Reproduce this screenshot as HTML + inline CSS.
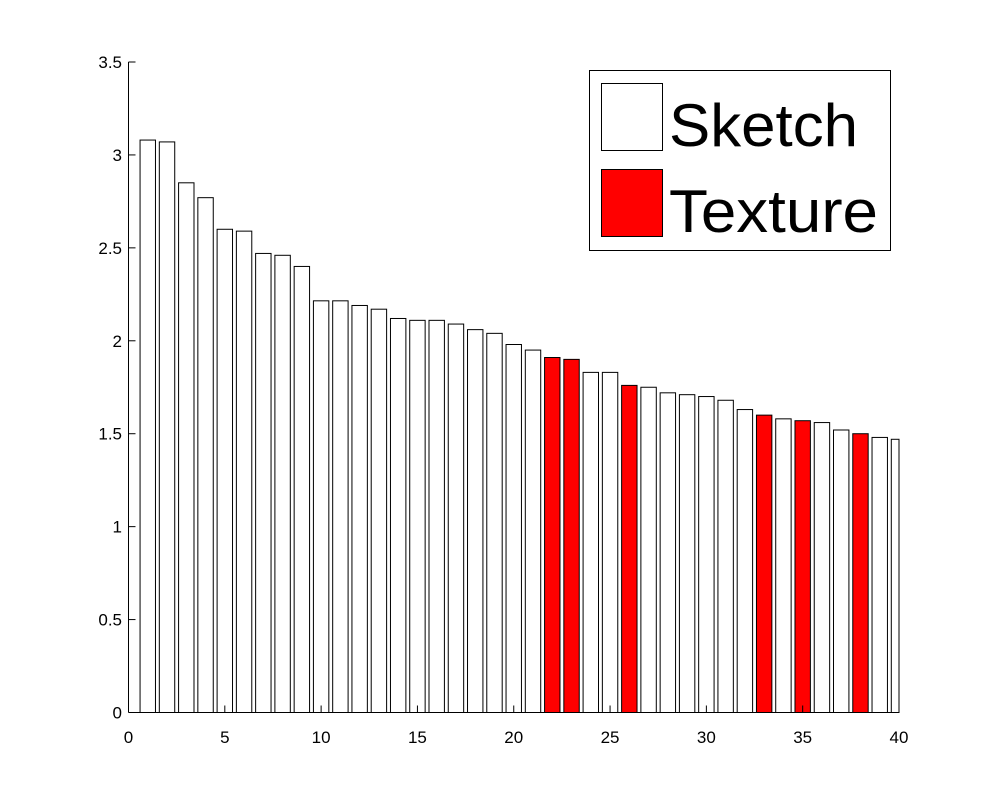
<!DOCTYPE html>
<html><head><meta charset="utf-8"><style>body{margin:0;background:#fff}svg{display:block}</style></head>
<body>
<svg id="chart" width="994" height="800" xmlns="http://www.w3.org/2000/svg" font-family="Liberation Sans, sans-serif">
<rect width="994" height="800" fill="#fff"/>
<g id="bars"></g>
<g id="axes"></g>
<g>
<rect x="589.5" y="70.5" width="301" height="180" fill="#fff" stroke="#000" stroke-width="1"/>
<rect x="601.5" y="83.5" width="61" height="67" fill="#fff" stroke="#000"/>
<text x="669" y="146" font-size="60" textLength="189" lengthAdjust="spacingAndGlyphs">Sketch</text>
<rect x="601.5" y="169.5" width="61" height="67" fill="#f00" stroke="#000"/>
<text x="669" y="232" font-size="60" textLength="209" lengthAdjust="spacingAndGlyphs">Texture</text>
</g>
</svg>
<script>
const categories = Array.from({length:40},(_,i)=>i+1);
const values = [3.08,3.07,2.85,2.77,2.60,2.59,2.47,2.46,2.40,2.215,2.215,2.19,2.17,2.12,2.11,2.11,2.09,2.06,2.04,1.98,1.95,1.91,1.90,1.83,1.83,1.76,1.75,1.72,1.71,1.70,1.68,1.63,1.60,1.58,1.57,1.56,1.52,1.50,1.48,1.47];
const textureIdx = [22,23,26,33,35,38];
const xTicks = [0,5,10,15,20,25,30,35,40];
const yTicks = [0,0.5,1,1.5,2,2.5,3,3.5];
const NS="http://www.w3.org/2000/svg";
const X0=128.5,X1=899,Y0=712.5,Y1=62;
const xs=v=>X0+(X1-X0)*v/40;
const ys=v=>Y0-(Y0-Y1)*v/3.5;
const bars=document.getElementById('bars');
const axes=document.getElementById('axes');
const bw=(X1-X0)/40*0.8;
categories.forEach((c,i)=>{
  const x=xs(c)-bw/2; const w=Math.min(bw, X1-x);
  const r=document.createElementNS(NS,'rect');
  
  
  r.setAttribute('x',x);r.setAttribute('y',ys(values[i]));
  r.setAttribute('width',w);r.setAttribute('height',Y0-ys(values[i]));
  r.setAttribute('fill',textureIdx.includes(c)?'#f00':'#fff');
  r.setAttribute('stroke','#000');r.setAttribute('stroke-width','1');
  bars.appendChild(r);
});
function ln(x1,y1,x2,y2){const l=document.createElementNS(NS,'line');l.setAttribute('x1',x1);l.setAttribute('y1',y1);l.setAttribute('x2',x2);l.setAttribute('y2',y2);l.setAttribute('stroke','#000');axes.appendChild(l);return l;}
const xa=ln(X0,Y0,X1,Y0);


const ya=ln(X0,Y0,X0,Y1);


xTicks.forEach(t=>{
  ln(xs(t),Y0,xs(t),Y0-7);
  const tx=document.createElementNS(NS,'text');
  
  
  tx.setAttribute('x',xs(t));tx.setAttribute('y',743);tx.setAttribute('font-size','17');tx.setAttribute('text-anchor','middle');
  tx.textContent=t;axes.appendChild(tx);
});
yTicks.forEach(t=>{
  ln(X0,ys(t),X0+7,ys(t));
  const tx=document.createElementNS(NS,'text');
  
  
  tx.setAttribute('x',122);tx.setAttribute('y',ys(t)+6);tx.setAttribute('font-size','17');tx.setAttribute('text-anchor','end');
  tx.textContent=t;axes.appendChild(tx);
});
</script>
</body></html>
